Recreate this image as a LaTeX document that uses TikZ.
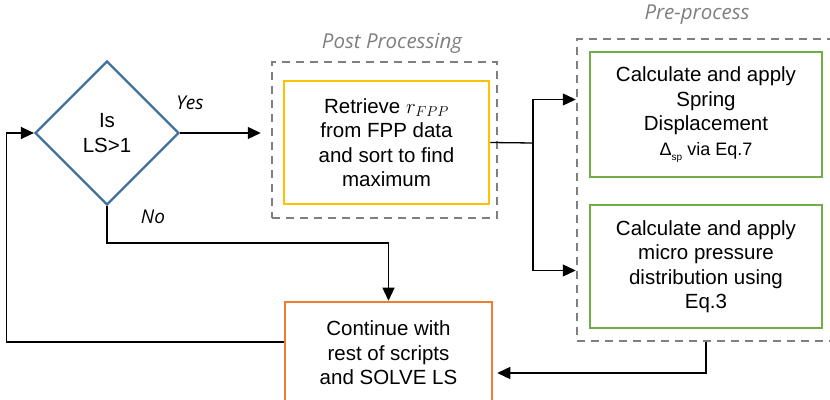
\documentclass[tikz,border=0pt]{standalone}
\usepackage{fontspec}
\setmainfont{Liberation Sans}
\newfontfamily\tagfont{Open Sans}
\usetikzlibrary{shapes.geometric,arrows.meta}

\definecolor{decblue}{RGB}{65,113,156}
\definecolor{postyellow}{RGB}{255,192,0}
\definecolor{pregreen}{RGB}{112,173,71}
\definecolor{solveorange}{RGB}{237,125,49}
\definecolor{groupgray}{RGB}{127,127,127}

\begin{document}
\begin{tikzpicture}[x=1pt,y=1pt,
    every node/.style={font=\fontsize{20.5}{24.5}\selectfont, align=center},
    decision/.style={diamond, draw=decblue, line width=2.2pt,
        minimum size=144pt, inner sep=0pt},
    proc/.style={rectangle, line width=2.5pt, inner sep=0pt},
    group/.style={rectangle, draw=groupgray, line width=2.5pt,
        dash pattern=on 8pt off 6pt, inner sep=0pt},
    grouptag/.style={font=\tagfont\itshape\fontsize{20.5}{24}\selectfont,
        text=groupgray},
    branch/.style={font=\tagfont\itshape\fontsize{19}{22}\selectfont},
    flow/.style={-{Triangle[length=13pt,width=12pt]}, line width=1.3pt}]

    \useasboundingbox (0,0) rectangle (830,399);

    % dashed groups
    \node[group, minimum width=225pt, minimum height=156pt] (post) at (384.5,259) {};
    \node[group, minimum width=258pt, minimum height=302pt] (pre) at (706,209) {};
    \node[grouptag] (posttag) at (392,356) {Post Processing};
    \node[grouptag] (pretag) at (697,384) {Pre-process};

    % steps
    \node[decision] (isls) at (107,266) {Is\\LS>1};
    \node[proc, draw=postyellow, minimum width=205pt, minimum height=123pt]
        (retr) at (386.5,256.5) {Retrieve $r_{FPP}$\\from FPP data\\and sort to find\\maximum};
    \node[proc, draw=pregreen, minimum width=232pt, minimum height=125pt]
        (spring) at (706,284.5) {Calculate and apply\\Spring\\Displacement\\
        {\fontsize{18}{20}\selectfont Δ\raisebox{-5pt}{\fontsize{10}{10}\selectfont sp} via Eq.7}};
    \node[proc, draw=pregreen, minimum width=232pt, minimum height=123pt]
        (micro) at (706,132.5) {Calculate and apply\\micro pressure\\distribution using\\Eq.3};
    \node[proc, draw=solveorange, minimum width=207pt, minimum height=102pt]
        (solve) at (388.5,46) {Continue with\\rest of scripts\\and SOLVE LS};

    \node[branch] (yes) at (190,296) {Yes};
    \node[branch] (no) at (153,182) {No};

    % connectors
    \draw[flow] (isls.east) -- ([xshift=-10pt]post.west |- isls.east);
    \draw[flow] (isls.south) -- ++(0,-37) -| (solve.north);
    \coordinate (split) at (533,256);
    \draw[line width=1.3pt] (retr.east) -- (split);
    \draw[flow] (split) |- ([yshift=15pt]pre.west |- spring.west);
    \draw[flow] (split) |- ([yshift=-4pt]pre.west |- micro.west);
    \draw[flow, shorten >=4pt] (pre.south) |- ([yshift=-20pt]solve.east);
    \draw[flow] ([yshift=11pt]solve.west) -- ++(-277,0) |- (isls.west);

\end{tikzpicture}
\end{document}
